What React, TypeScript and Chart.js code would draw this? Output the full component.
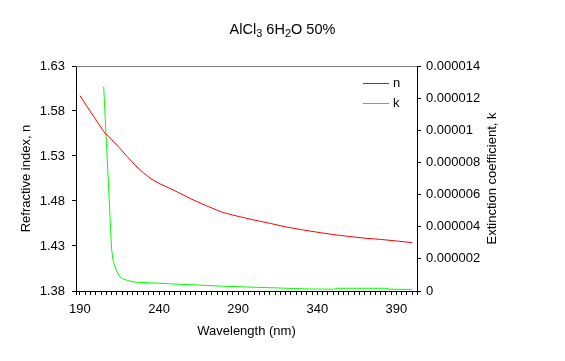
import { useEffect, useRef } from 'react';
import { Chart, registerables } from 'chart.js';

Chart.register(...registerables);

const FONT = "'Liberation Sans', Arial, sans-serif";

// Refractive index n
const nWavelengths = [190, 195, 200, 205, 206, 208, 210, 215, 220, 225, 230, 235, 240, 245, 250, 260, 270, 280, 290, 300, 310, 320, 330, 340, 350, 360, 370, 380, 390, 400];
const nValues = [1.597, 1.5836, 1.5704, 1.5573, 1.555, 1.552, 1.5482, 1.539, 1.529, 1.5195, 1.5115, 1.5045, 1.4995, 1.4955, 1.4914, 1.4825, 1.4746, 1.4674, 1.4629, 1.4589, 1.4552, 1.4513, 1.4481, 1.4453, 1.4427, 1.4406, 1.4387, 1.4373, 1.4356, 1.4337];

// Extinction coefficient k
const kWavelengths = [205, 210, 211, 213, 215, 217, 220, 223, 226, 235, 250, 265, 280, 295, 315, 333, 350, 353, 383, 386, 400];
const kValues = [12.7e-6, 2.6e-6, 1.85e-6, 1.3e-6, 0.9e-6, 0.76e-6, 0.66e-6, 0.58e-6, 0.54e-6, 0.51e-6, 0.43e-6, 0.37e-6, 0.3e-6, 0.25e-6, 0.19e-6, 0.13e-6, 0.11e-6, 0.17e-6, 0.17e-6, 0.11e-6, 0.1e-6];

// Axes
const xMin = 187.5;
const xMax = 403;
const xLabelValues = [190, 240, 290, 340, 390];
const xTickLabels = ['190', '240', '290', '340', '390'];
const xMinorStep = 10 / 3;

const nTickValues = [1.38, 1.43, 1.48, 1.53, 1.58, 1.63];
const nTickLabels = ['1.38', '1.43', '1.48', '1.53', '1.58', '1.63'];

const kTickValues = [0, 2e-6, 4e-6, 6e-6, 8e-6, 10e-6, 12e-6, 14e-6];
const kTickLabels = ['0', '0.000002', '0.000004', '0.000006', '0.000008', '0.00001', '0.000012', '0.000014'];

const xTitle = 'Wavelength (nm)';
const nTitle = 'Refractive index, n';
const kTitle = 'Extinction coefficient, k';

function buildXTicks() {
  const vals: number[] = [xMin];
  for (let i = 0; ; i++) {
    const v = xLabelValues[0] + i * xMinorStep;
    if (v > xMax) break;
    vals.push(v);
  }
  vals.push(xMax);
  return vals.map((value) => ({ value }));
}

const extrasPlugin = {
  id: 'extras',
  afterDraw(chart: any) {
    const { ctx, chartArea } = chart;
    const { left, right, top, bottom } = chartArea;
    ctx.save();
    // top border of plot area
    ctx.strokeStyle = '#808080';
    ctx.lineWidth = 1;
    ctx.beginPath();
    ctx.moveTo(left, Math.round(top) + 0.5);
    ctx.lineTo(right, Math.round(top) + 0.5);
    ctx.stroke();

    // legend
    ctx.font = `13px ${FONT}`;
    ctx.textAlign = 'left';
    ctx.textBaseline = 'alphabetic';
    chart.data.datasets.forEach((ds: any, i: number) => {
      const y = Math.round(top + 17 + i * 20) + 0.5;
      ctx.strokeStyle = ds.borderColor;
      ctx.beginPath();
      ctx.moveTo(right - 54, y);
      ctx.lineTo(right - 28, y);
      ctx.stroke();
      ctx.fillStyle = '#000';
      ctx.fillText(ds.label, right - 24, y + 3.5);
    });

    // y axis titles
    const midY = (top + bottom) / 2;
    ctx.fillStyle = '#000';
    ctx.textAlign = 'center';
    ctx.textBaseline = 'middle';
    ctx.save();
    ctx.translate(left - 49.5, midY);
    ctx.rotate(-Math.PI / 2);
    ctx.fillText(nTitle, 0, 0);
    ctx.restore();
    ctx.save();
    ctx.translate(right + 75, midY);
    ctx.rotate(-Math.PI / 2);
    ctx.fillText(kTitle, 0, 0);
    ctx.restore();
    ctx.restore();
  },
};

export default function App() {
  const ref = useRef<HTMLCanvasElement>(null);

  useEffect(() => {
    document.body.style.margin = '0';
    const tickFont = { family: FONT, size: 13 };
    const chart = new Chart(ref.current as HTMLCanvasElement, {
      type: 'line',
      data: {
        datasets: [
          {
            label: 'n',
            data: nWavelengths.map((x, i) => ({ x, y: nValues[i] })),
            borderColor: '#ff0000',
            backgroundColor: '#ff0000',
            borderWidth: 1,
            pointRadius: 0,
            tension: 0,
            yAxisID: 'y',
          },
          {
            label: 'k',
            data: kWavelengths.map((x, i) => ({ x, y: kValues[i] })),
            borderColor: '#00ff00',
            backgroundColor: '#00ff00',
            borderWidth: 1,
            pointRadius: 0,
            tension: 0,
            yAxisID: 'y2',
          },
        ],
      },
      options: {
        responsive: false,
        animation: false,
        layout: { padding: { top: 66, left: 0, right: 0, bottom: 0 } },
        plugins: {
          legend: { display: false },
          title: { display: false },
          tooltip: { enabled: false },
        },
        scales: {
          x: {
            type: 'linear',
            position: 'bottom',
            min: xMin,
            max: xMax,
            afterBuildTicks: (scale: any) => {
              scale.ticks = buildXTicks();
            },
            afterFit: (scale: any) => {
              scale.height = 70;
            },
            ticks: {
              autoSkip: false,
              maxRotation: 0,
              minRotation: 0,
              padding: 7,
              color: '#000',
              font: tickFont,
              callback: (value: any) => {
                const idx = xLabelValues.findIndex((v) => Math.abs(v - Number(value)) < 1e-6);
                return idx >= 0 ? xTickLabels[idx] : '';
              },
            },
            grid: { drawOnChartArea: false, drawTicks: true, tickLength: 4, color: '#000' },
            border: { display: true, color: '#000', width: 1 },
            title: {
              display: true,
              text: xTitle,
              color: '#000',
              font: { family: FONT, size: 13 },
              padding: { top: 0, bottom: 22 },
            },
          },
          y: {
            type: 'linear',
            position: 'left',
            min: nTickValues[0],
            max: nTickValues[nTickValues.length - 1],
            afterBuildTicks: (scale: any) => {
              scale.ticks = nTickValues.map((value) => ({ value }));
            },
            afterFit: (scale: any) => {
              scale.width = 76;
            },
            ticks: {
              padding: 7,
              color: '#000',
              font: tickFont,
              callback: (value: any) => {
                const idx = nTickValues.findIndex((v) => Math.abs(v - Number(value)) < 1e-9);
                return idx >= 0 ? nTickLabels[idx] : '';
              },
            },
            grid: { drawOnChartArea: false, drawTicks: true, tickLength: 4, color: '#000' },
            border: { display: true, color: '#000', width: 1 },
          },
          y2: {
            type: 'linear',
            position: 'right',
            min: kTickValues[0],
            max: kTickValues[kTickValues.length - 1],
            afterBuildTicks: (scale: any) => {
              scale.ticks = kTickValues.map((value) => ({ value }));
            },
            afterFit: (scale: any) => {
              scale.width = 148;
            },
            ticks: {
              padding: 5,
              color: '#000',
              font: tickFont,
              callback: (value: any) => {
                const idx = kTickValues.findIndex((v) => Math.abs(v - Number(value)) < 1e-12);
                return idx >= 0 ? kTickLabels[idx] : '';
              },
            },
            grid: { drawOnChartArea: false, drawTicks: true, tickLength: 4, color: '#000' },
            border: { display: true, color: '#000', width: 1 },
          },
        },
      } as any,
      plugins: [extrasPlugin],
    });
    return () => chart.destroy();
  }, []);

  const subStyle = { fontSize: 11, verticalAlign: -3, lineHeight: 0 } as const;

  return (
    <div style={{ position: 'relative', width: 565, height: 361, fontFamily: FONT, background: '#fff' }}>
      <canvas ref={ref} width={565} height={361} style={{ display: 'block' }} />
      <div
        style={{
          position: 'absolute',
          left: 0,
          top: 21,
          width: 565,
          textAlign: 'center',
          fontSize: 14.5,
          lineHeight: '16px',
          color: '#000',
        }}
      >
        AlCl<sub style={subStyle}>3</sub> 6H<sub style={subStyle}>2</sub>O 50%
      </div>
    </div>
  );
}
